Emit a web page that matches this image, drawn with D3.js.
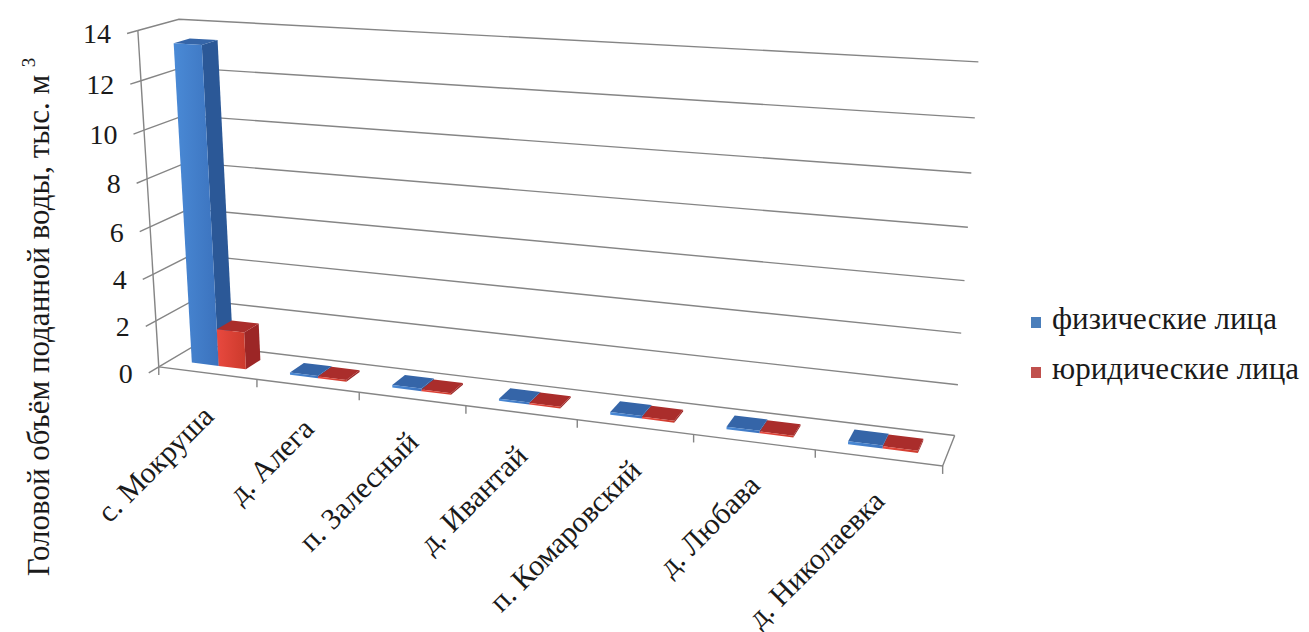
<!DOCTYPE html>
<html>
<head>
<meta charset="utf-8">
<script src="https://cdn.jsdelivr.net/npm/d3@7/dist/d3.min.js"></script>
<style>
  html, body { margin: 0; padding: 0; background: #fff; }
  svg { display: block; }
  text { font-family: "Liberation Serif", "Times New Roman", serif; fill: #1a1a1a; }
</style>
</head>
<body>
<svg id="chart" width="1309" height="632"></svg>
<script>
// Settlements along the category axis
const categories = ["с. Мокруша", "д. Алега", "п. Залесный", "д. Ивантай",
                    "п. Комаровский", "д. Любава", "д. Николаевка"];
// Series names (legend)
const seriesNames = ["физические лица", "юридические лица"];
// Water supplied, thousand m³
const physical = [13.4, 0.10, 0.11, 0.09, 0.11, 0.10, 0.12];
const legal    = [1.6, 0.08, 0.07, 0.07, 0.08, 0.07, 0.09];
// Value axis ticks
const yTicks = [0, 2, 4, 6, 8, 10, 12, 14];

const svg = d3.select("#chart");

// ---- 3D box: u = along categories, v = value, w = depth (0 front, 1 back)
// Screen anchors of the plot box used to fit a perspective camera.
const anchors = [
  [0, 0, 0, 160, 367], [1, 0, 0, 943, 467],
  [0, 0, 1, 195, 346], [1, 0, 1, 955, 433],
  [0, 1, 1, 180, 20],  [1, 1, 1, 978, 63],
  [0, 1, 0, 137, 32],
  [1/7, 0, 0, 258, 380], [2/7, 0, 0, 360, 393], [3/7, 0, 0, 465, 406],
  [4/7, 0, 0, 577, 420], [5/7, 0, 0, 692, 435], [6/7, 0, 0, 815, 451],
  [0, 6/7, 0, 140, 80], [0, 5/7, 0, 143.6, 128], [0, 4/7, 0, 147, 178],
  [0, 3/7, 0, 150.4, 227], [0, 2/7, 0, 153.5, 273], [0, 1/7, 0, 156.8, 320],
  [1, 6/7, 1, 975, 118], [1, 5/7, 1, 972, 173], [1, 4/7, 1, 968, 228],
  [1, 3/7, 1, 965, 280], [1, 2/7, 1, 961, 333], [1, 1/7, 1, 958, 383]
];

function fitProjection(pts) {
  const cx = 550, cy = 250, s = 450;
  const N = 11;
  const A = Array.from({length: N}, () => new Array(N).fill(0));
  const b = new Array(N).fill(0);
  const add = (r, t) => {
    for (let i = 0; i < N; i++) {
      b[i] += r[i] * t;
      for (let j = 0; j < N; j++) A[i][j] += r[i] * r[j];
    }
  };
  for (const [u, v, w, X0, Y0] of pts) {
    const X = (X0 - cx) / s, Y = (Y0 - cy) / s;
    add([u, v, w, 1, 0, 0, 0, 0, -X * u, -X * v, -X * w], X);
    add([0, 0, 0, 0, u, v, w, 1, -Y * u, -Y * v, -Y * w], Y);
  }
  // Gaussian elimination with partial pivoting
  for (let c = 0; c < N; c++) {
    let piv = c;
    for (let r = c + 1; r < N; r++) if (Math.abs(A[r][c]) > Math.abs(A[piv][c])) piv = r;
    [A[c], A[piv]] = [A[piv], A[c]];
    [b[c], b[piv]] = [b[piv], b[c]];
    for (let r = c + 1; r < N; r++) {
      const f = A[r][c] / A[c][c];
      for (let k = c; k < N; k++) A[r][k] -= f * A[c][k];
      b[r] -= f * b[c];
    }
  }
  const p = new Array(N).fill(0);
  for (let r = N - 1; r >= 0; r--) {
    let acc = b[r];
    for (let k = r + 1; k < N; k++) acc -= A[r][k] * p[k];
    p[r] = acc / A[r][r];
  }
  return (u, v, w) => {
    const d = p[8] * u + p[9] * v + p[10] * w + 1;
    return [
      cx + s * (p[0] * u + p[1] * v + p[2] * w + p[3]) / d,
      cy + s * (p[4] * u + p[5] * v + p[6] * w + p[7]) / d
    ];
  };
}
const project = fitProjection(anchors);

// ---- scales
const x = d3.scaleBand().domain(categories).range([0, 1]).paddingInner(0).paddingOuter(0);
const xs = d3.scaleBand().domain(seriesNames).range([0, x.bandwidth()]).paddingInner(0).paddingOuter(0.8);
const y = d3.scaleLinear().domain([0, 14]).range([0, 1]);

const W0 = 0.3, W1 = 0.7; // bar depth span

const line = d3.line();
const poly = pts => "M" + pts.map(p => project(...p).join(",")).join("L") + "Z";

// ---- gridlines on the side wall and back wall
const grid = svg.append("g").attr("fill", "none").attr("stroke", "#858585").attr("stroke-width", 1.4);
yTicks.forEach(t => {
  const v = y(t);
  grid.append("path").attr("d", line([project(0, v, 0), project(0, v, 1), project(1, v, 1)]));
});
// front and right floor edges
grid.append("path").attr("d", line([project(0, 0, 0), project(1, 0, 0), project(1, 0, 1)]));

// value axis line and ticks
const axisG = svg.append("g").attr("stroke", "#858585").attr("stroke-width", 1.4).attr("fill", "none");
axisG.append("path").attr("d", line([project(0, 0, 0), project(0, 1, 0)]));
yTicks.forEach(t => {
  const v = y(t);
  axisG.append("path").attr("d", line([project(0, v, 0), project(0, v, -0.25)]));
});

// category ticks along the front floor edge
const catBounds = d3.range(categories.length + 1).map(i => i / categories.length);
catBounds.forEach(u => {
  const [px, py] = project(u, 0, 0);
  axisG.append("path").attr("d", line([[px, py], [px, py + 8]]));
});

// value tick labels
svg.append("g").selectAll("text").data(yTicks).join("text")
  .attr("x", t => project(0, y(t), -0.25)[0] - 16)
  .attr("y", t => project(0, y(t), -0.25)[1])
  .attr("dy", "0.35em")
  .attr("text-anchor", "end")
  .attr("font-size", 28)
  .text(t => t);

// ---- bars
const defs = svg.append("defs");
const palette = {
  "физические лица": { front: ["#4a8ad6", "#3b72bd"], side: "#2b5897", top: "#3565a8", legend: "#4a7ebb" },
  "юридические лица": { front: ["#e8493f", "#cc3a2c"], side: "#9c2626", top: "#aa2d2b", legend: "#c0504d" }
};
seriesNames.forEach((s, i) => {
  const g = defs.append("linearGradient").attr("id", "front" + i).attr("x1", 0).attr("x2", 1).attr("y1", 0).attr("y2", 0);
  g.append("stop").attr("offset", "0%").attr("stop-color", palette[s].front[0]);
  g.append("stop").attr("offset", "100%").attr("stop-color", palette[s].front[1]);
});

const bars = [];
categories.forEach((c, ci) => {
  seriesNames.forEach((s, si) => {
    const val = si === 0 ? physical[ci] : legal[ci];
    bars.push({ c, s, si, val });
  });
});

const barG = svg.append("g");
bars.forEach(d => {
  const u0 = x(d.c) + xs(d.s), u1 = u0 + xs.bandwidth();
  const v1 = y(d.val);
  const g = barG.append("g");
  // right side face
  g.append("path").attr("d", poly([[u1, 0, W0], [u1, 0, W1], [u1, v1, W1], [u1, v1, W0]]))
    .attr("fill", palette[d.s].side);
  // top face
  g.append("path").attr("d", poly([[u0, v1, W0], [u1, v1, W0], [u1, v1, W1], [u0, v1, W1]]))
    .attr("fill", palette[d.s].top);
  // front face
  g.append("path").attr("d", poly([[u0, 0, W0], [u1, 0, W0], [u1, v1, W0], [u0, v1, W0]]))
    .attr("fill", `url(#front${d.si})`);
});

// ---- category labels
svg.append("g").selectAll("text").data(categories).join("text")
  .attr("transform", c => {
    const [px, py] = project(x(c) + x.bandwidth() / 2, 0, 0);
    return `translate(${px + 8},${py + 45}) rotate(-45)`;
  })
  .attr("text-anchor", "end")
  .attr("font-size", 30)
  .text(c => c);

// ---- value axis title
const title = svg.append("text")
  .attr("transform", "translate(49,317) rotate(-90)")
  .attr("text-anchor", "middle")
  .attr("font-size", 31);
title.append("tspan").text("Головой объём поданной воды, тыс. м ");
title.append("tspan").attr("font-size", 19).attr("dy", -14).text("3");

// ---- legend
const legend = svg.append("g").attr("transform", "translate(1031,317)");
seriesNames.forEach((s, i) => {
  const g = legend.append("g").attr("transform", `translate(0,${i * 50})`);
  g.append("rect").attr("width", 10).attr("height", 11).attr("fill", palette[s].legend);
  g.append("text").attr("x", 21).attr("y", 12).attr("font-size", 31).text(s);
});
</script>
</body>
</html>
